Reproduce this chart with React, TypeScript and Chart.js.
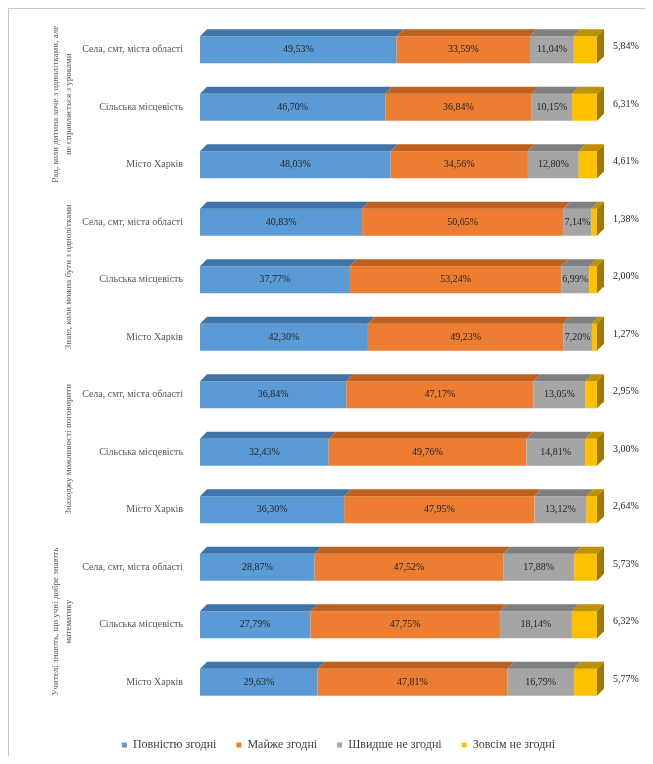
import React, { useEffect, useRef } from 'react';
import { Chart, registerables } from 'chart.js';

Chart.register(...registerables);

// ---- data ----
const categories = ['Села, смт, міста області', 'Сільська місцевість', 'Місто Харків'];
const groupLabels: string[][] = [
  ['Рад, коли дитина хоче з однолітками, але', 'не справляється з уроками'],
  ['Знаю, коли можна бути з однолітками'],
  ['Знаходжу можливості поговорити'],
  ['Учителі знають, що учні добре знають', 'математику'],
];
const seriesNames = ['Повністю згодні', 'Майже згодні', 'Швидше не згодні', 'Зовсім не згодні'];
const fullyAgree = [49.53, 46.70, 48.03, 40.83, 37.77, 42.30, 36.84, 32.43, 36.30, 28.87, 27.79, 29.63];
const mostlyAgree = [33.59, 36.84, 34.56, 50.65, 53.24, 49.23, 47.17, 49.76, 47.95, 47.52, 47.75, 47.81];
const ratherDisagree = [11.04, 10.15, 12.80, 7.14, 6.99, 7.20, 13.05, 14.81, 13.12, 17.88, 18.14, 16.79];
const fullyDisagree = [5.84, 6.31, 4.61, 1.38, 2.00, 1.27, 2.95, 3.00, 2.64, 5.73, 6.32, 5.77];

const frontColors = ['#5b9bd5', '#ed7d31', '#a5a5a5', '#ffc000'];
const topColors = ['#3f74ab', '#c0601f', '#7f7f7f', '#bf9000'];
const sideColor = '#a07a00';
const DEPTH = 7;
const SERIF = '"Liberation Serif", "Times New Roman", serif';

const fmt = (v: number) => v.toFixed(2).replace('.', ',') + '%';

const rowLabels = groupLabels.flatMap(() => categories);

const threeDPlugin = {
  id: 'threeD',
  afterDatasetsDraw(chart: any) {
    const ctx = chart.ctx;
    const n = chart.data.datasets.length;
    ctx.save();
    chart.data.datasets.forEach((ds: any, di: number) => {
      const meta = chart.getDatasetMeta(di);
      meta.data.forEach((el: any) => {
        const { x, y, base, height } = el.getProps(['x', 'y', 'base', 'height'], true);
        const left = Math.min(x, base);
        const right = Math.max(x, base);
        const top = y - height / 2;
        const bottom = y + height / 2;
        ctx.fillStyle = topColors[di];
        ctx.beginPath();
        ctx.moveTo(left, top);
        ctx.lineTo(left + DEPTH, top - DEPTH);
        ctx.lineTo(right + DEPTH, top - DEPTH);
        ctx.lineTo(right, top);
        ctx.closePath();
        ctx.fill();
        if (di === n - 1) {
          ctx.fillStyle = sideColor;
          ctx.beginPath();
          ctx.moveTo(right, top);
          ctx.lineTo(right + DEPTH, top - DEPTH);
          ctx.lineTo(right + DEPTH, bottom - DEPTH);
          ctx.lineTo(right, bottom);
          ctx.closePath();
          ctx.fill();
        }
      });
    });
    // value labels
    ctx.font = `10px ${SERIF}`;
    ctx.fillStyle = '#262626';
    ctx.textBaseline = 'middle';
    chart.data.datasets.forEach((ds: any, di: number) => {
      const meta = chart.getDatasetMeta(di);
      meta.data.forEach((el: any, i: number) => {
        const { x, y, base } = el.getProps(['x', 'y', 'base'], true);
        const v = ds.data[i];
        if (di < n - 1) {
          ctx.textAlign = 'center';
          ctx.fillText(fmt(v), (x + base) / 2, y);
        } else {
          ctx.textAlign = 'left';
          ctx.fillText(fmt(v), chart.chartArea.right + DEPTH + 9, y - 3);
        }
      });
    });
    ctx.restore();
  },
  afterDraw(chart: any) {
    const ctx = chart.ctx;
    const ys = chart.scales.y;
    ctx.save();
    ctx.font = `9px ${SERIF}`;
    ctx.fillStyle = '#595959';
    ctx.textAlign = 'center';
    ctx.textBaseline = 'middle';
    groupLabels.forEach((lines, g) => {
      const y0 = ys.getPixelForValue(g * 3);
      const y1 = ys.getPixelForValue(g * 3 + 2);
      const cy = (y0 + y1) / 2 - 3;
      lines.forEach((line, li) => {
        const x = 60 - (lines.length - 1 - li) * 13;
        ctx.save();
        ctx.translate(x, cy);
        ctx.rotate(-Math.PI / 2);
        ctx.fillText(line, 0, 0);
        ctx.restore();
      });
    });
    ctx.restore();
  },
};

export default function App() {
  const ref = useRef<HTMLCanvasElement>(null);
  useEffect(() => {
    const values = [fullyAgree, mostlyAgree, ratherDisagree, fullyDisagree];
    const chart = new Chart(ref.current!, {
      type: 'bar',
      data: {
        labels: rowLabels,
        datasets: values.map((d, i) => ({
          label: seriesNames[i],
          data: d,
          backgroundColor: frontColors[i],
          borderWidth: 0,
          categoryPercentage: 1,
          barPercentage: 0.47,
        })),
      },
      options: {
        indexAxis: 'y',
        animation: false,
        responsive: false,
        layout: { padding: { top: 12, right: 48, bottom: -5, left: 71 } },
        scales: {
          x: { stacked: true, min: 0, max: 100, display: false },
          y: {
            stacked: true,
            grid: { display: false, drawTicks: false },
            border: { display: false },
            ticks: { padding: 17, color: '#595959', font: { family: SERIF, size: 10 } },
            afterFit: (s: any) => {
              s.width = 120;
              s.paddingTop = 0;
              s.paddingBottom = 0;
            },
          },
        },
        plugins: {
          legend: {
            position: 'bottom',
            title: { display: true, text: '', font: { size: 5 }, padding: { top: 2, bottom: 0 } },
            labels: {
              boxWidth: 5,
              boxHeight: 5,
              padding: 20,
              color: '#404040',
              font: { family: SERIF, size: 12 },
            },
          },
          tooltip: { enabled: false },
        },
      },
      plugins: [threeDPlugin],
    });
    return () => chart.destroy();
  }, []);
  return (
    <div
      style={{
        width: 637,
        height: 748,
        borderTop: '1px solid #c8c8c8',
        borderLeft: '1px solid #c8c8c8',
        boxSizing: 'border-box',
      }}
    >
      <canvas ref={ref} width={636} height={747} style={{ display: 'block' }} />
    </div>
  );
}
